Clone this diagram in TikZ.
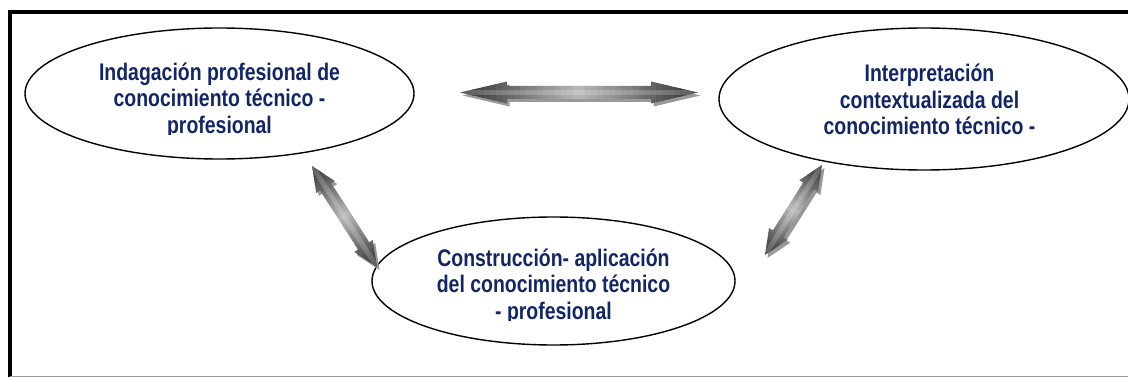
\documentclass[tikz,border=0pt]{standalone}
\usepackage{fontspec}
\newfontfamily\labelfont[FakeStretch=0.81]{Liberation Sans}
\usetikzlibrary{shapes.geometric,calc}
\definecolor{labelblue}{RGB}{18,38,102}

\begin{document}
\begin{tikzpicture}[x=1pt, y=-1pt,
    bubble/.style={ellipse, draw, line width=1.4pt, inner sep=0pt},
    lbl/.style={anchor=base, align=center, text=labelblue, font=\labelfont\bfseries\fontsize{24}{26.5}\selectfont},
    boltshadow/.style={fill=black!40}]
    \useasboundingbox (0,0) rectangle (1128,377);
    % Marco
    \draw[line width=4pt] (10,377) -- (10,12) -- (1128,12);
    \draw[black!40, line width=1pt] (10,376.5) -- (1128,376.5);
    % Nodes
    \node[bubble, minimum width=389pt, minimum height=131pt] (indag) at (219.5,93.5) {};
    \node[bubble, minimum width=410pt, minimum height=142pt] (interp) at (924,99) {};
    \node[bubble, minimum width=363pt, minimum height=128pt] (constr) at (553.5,281) {};
    \begin{scope}
        \clip (20,50) rectangle (420,134.5);
        \node[lbl] (indagtxt) at (219.5,133.5) {Indagación profesional de\\conocimiento técnico -\\profesional};
    \end{scope}
    \node[lbl] (interptxt) at (929.5,134.7) {Interpretación\\contextualizada del\\conocimiento técnico -};
    \begin{scope}
        \clip (380,230) rectangle (730,320.5);
        \node[lbl] (constrtxt) at (553.5,319) {Construcción- aplicación\\del conocimiento técnico\\- profesional};
    \end{scope}
    % Flechas
    \coordinate (h1) at (460,92.5);
    \coordinate (h2) at (698,92.5);
    \coordinate (l1) at (312,166);
    \coordinate (l2) at (377,267);
    \coordinate (r1) at (822,165);
    \coordinate (r2) at (765,255);
    \foreach \a/\b/\hl in {h1/h2/47, l1/l2/25, r1/r2/25} {
        \path let \p1 = ($(\b)-(\a)$), \n1 = {veclen(\x1,\y1)}, \n2 = {atan2(\y1,\x1)} in
            \pgfextra{\pgfmathsetmacro\boltlen{\n1}\global\let\boltlen\boltlen
                      \pgfmathsetmacro\boltrot{\n2}\global\let\boltrot\boltrot};
        \begin{scope}[transform canvas={shift={($(\a)+(2.5,3)$)}, rotate=\boltrot}]
            \fill[boltshadow] (0,0) -- (\hl,11) -- (\hl,6.5) -- ({\boltlen-\hl},6.5) -- ({\boltlen-\hl},11)
                -- (\boltlen,0) -- ({\boltlen-\hl},-11) -- ({\boltlen-\hl},-6.5) -- (\hl,-6.5) -- (\hl,-11) -- cycle;
        \end{scope}
        \begin{scope}[transform canvas={shift={(\a)}, rotate=\boltrot}]
            \clip (0,0) -- (\hl,11) -- (\hl,6.5) -- ({\boltlen-\hl},6.5) -- ({\boltlen-\hl},11)
                -- (\boltlen,0) -- ({\boltlen-\hl},-11) -- ({\boltlen-\hl},-6.5) -- (\hl,-6.5) -- (\hl,-11) -- cycle;
            % degradado a mano
            \foreach \i in {0,...,39} {
                \pgfmathtruncatemacro\tone{28+54*abs((\i+0.5)/20-1)}
                \fill[black!\tone] ({\i*\boltlen/40},-12) rectangle ({(\i+1)*\boltlen/40+0.6},12);
            }
            \fill[white, opacity=0.2] (0,-2.5) rectangle (\boltlen,2.5);
        \end{scope}
    }
\end{tikzpicture}
\end{document}
